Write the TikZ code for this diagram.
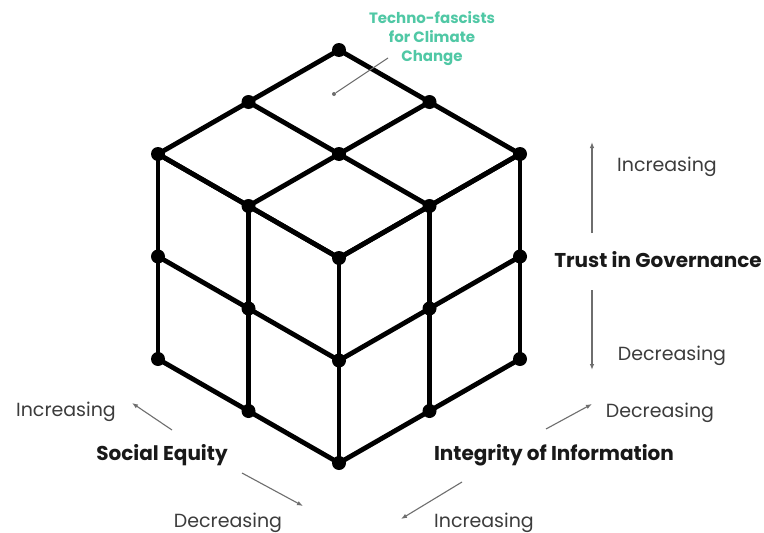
\documentclass[tikz,border=0pt]{standalone}
\usepackage{fontspec}
\setmainfont{Poppins}
\usetikzlibrary{arrows.meta}
\definecolor{tgreen}{RGB}{80,200,165}
\definecolor{axgray}{RGB}{110,110,110}
\definecolor{txtgray}{RGB}{60,60,60}
\begin{document}
\begin{tikzpicture}[x=1pt,y=-1pt,
  edge/.style={line width=4.8pt,line cap=round,line join=round},
  dot/.style={circle,fill=black,inner sep=0pt,minimum size=14pt},
  lbl/.style={font=\fontsize{19}{22}\selectfont,text=txtgray,inner sep=0pt},
  ttl/.style={font=\fontsize{20}{24}\selectfont\bfseries,text=black!90,inner sep=0pt},
  axarrow/.style={axgray,line width=1.1pt,-{Latex[length=6pt,width=4.5pt]}},
  leader/.style={axgray,line width=1pt}]
\useasboundingbox (0,0) rectangle (764,533);
\fill[white] (0,0) rectangle (764,533);
% cube coordinates
\foreach \i in {0,1,2}{
  \foreach \j in {0,1,2}{
    \coordinate (t\i\j) at ({339-90.5*\i+90.5*\j},{258-52*\i-52*\j});
    \coordinate (l\i\j) at ({339-90.5*\i},{258-52*\i+102.5*\j});
    \coordinate (r\i\j) at ({339+90.5*\i},{258-52*\i+102.5*\j});
  }
}
% edges
\foreach \i in {0,1,2}{
  \draw[edge] (t\i0) -- (t\i2);
  \draw[edge] (t0\i) -- (t2\i);
  \draw[edge] (l\i0) -- (l\i2);
  \draw[edge] (l0\i) -- (l2\i);
  \draw[edge] (r\i0) -- (r\i2);
  \draw[edge] (r0\i) -- (r2\i);
}
% dots
\foreach \i in {0,1,2}{
  \foreach \j in {0,1,2}{
    \node[dot] (dt\i\j) at (t\i\j) {};
  }
  \foreach \k in {1,2}{
    \node[dot] (dl\i\k) at (l\i\k) {};
  }
}
\foreach \j in {1,2}{
  \foreach \k in {1,2}{
    \node[dot] (dr\j\k) at (r\j\k) {};
  }
}
% green label
\node[font=\fontsize{15}{19}\selectfont\bfseries,text=tgreen,align=center,inner sep=0pt] (tf) at (432,39) {Techno-fascists\\for Climate\\Change};
\node[circle,fill=axgray,inner sep=0pt,minimum size=4pt] (tfdot) at (334,94) {};
\coordinate (tfend) at (388,58);
\draw[leader] (tfdot) -- (tfend);
% right axis
\node[lbl] (incTop) at (667,167) {Increasing};
\node[ttl] (trust) at (658,260) {Trust in Governance};
\node[lbl] (decTop) at (672,356) {Decreasing};
\coordinate (a1s) at (592,233); \coordinate (a1e) at (592,142);
\coordinate (a2s) at (592,290); \coordinate (a2e) at (592,370);
\draw[axarrow] (a1s) -- (a1e);
\draw[axarrow] (a2s) -- (a2e);
% left axis
\node[lbl] (incL) at (66,412) {Increasing};
\node[ttl] (soc) at (162,455) {Social Equity};
\node[lbl] (decL) at (228,523) {Decreasing};
\coordinate (b1s) at (172,430); \coordinate (b1e) at (132,403);
\coordinate (b2s) at (242,473); \coordinate (b2e) at (303,506);
\draw[axarrow] (b1s) -- (b1e);
\draw[axarrow] (b2s) -- (b2e);
% bottom right axis
\node[ttl] (integ) at (554,455) {Integrity of Information};
\node[lbl] (incR) at (484,523) {Increasing};
\node[lbl] (decR) at (660,413) {Decreasing};
\coordinate (c1s) at (462,482); \coordinate (c1e) at (401,519);
\coordinate (c2s) at (546,429); \coordinate (c2e) at (592,404);
\draw[axarrow] (c1s) -- (c1e);
\draw[axarrow] (c2s) -- (c2e);
\end{tikzpicture}
\end{document}
